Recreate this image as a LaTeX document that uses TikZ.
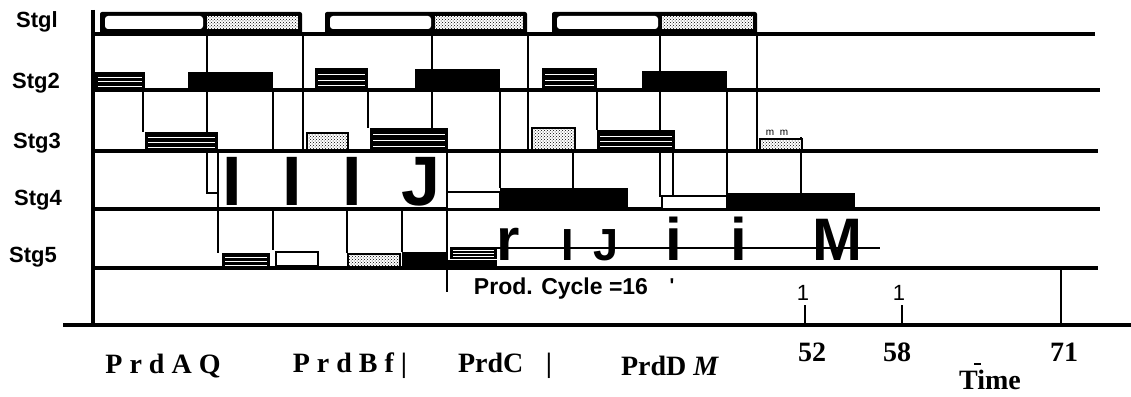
\documentclass[tikz,border=0pt]{standalone}
\usepackage{fontspec}
\setmainfont{Liberation Serif}
\setsansfont{Liberation Sans}
\usetikzlibrary{patterns}

% black bar with white stripes
\newcommand{\stripebar}[4]{%
  \fill (#1,#3) rectangle (#2,#4);
  \foreach \f in {0.3,0.55,0.8}
    \draw[white,line width=0.9pt] ({#1+3},{#3+\f*(#4-#3)}) -- ({#2-3},{#3+\f*(#4-#3)});
}

\tikzset{
  base/.style={line width=3.6pt},
  grid/.style={line width=2.8pt},
  hatchbar/.style={draw,line width=1.6pt,fill=white,postaction={pattern=crosshatch dots}},
  openbar/.style={draw,line width=2.4pt,fill=white},
  stg/.style={font=\sffamily\bfseries\fontsize{22}{22}\selectfont},
  prd/.style={font=\bfseries\fontsize{28}{28}\selectfont},
  big/.style={font=\sffamily\bfseries\fontsize{#1}{#1}\selectfont,inner sep=0pt,anchor=base},
}

\begin{document}
\begin{tikzpicture}[x=1pt,y=-1pt]
	\useasboundingbox (0,0) rectangle (1131,396);

	% Stage labels
	\node[stg] (s1) at (37,22) {Stgl};
	\node[stg] (s2) at (36,83) {Stg2};
	\node[stg] (s3) at (37,143) {Stg3};
	\node[stg] (s4) at (38,200) {Stg4};
	\node[stg] (s5) at (33,257) {Stg5};

	% Stage lines and axes
	\foreach \y/\e in {34/1095,90/1100,151/1098,209/1100,268/1098}
		\draw[base] (93,\y) -- (\e,\y);
	\draw[base] (93,10) -- (93,325);
	\draw[base] (63,325) -- (1131,325);

	% Links between stages
	\foreach \x/\ya/\yb in {207/34/193, 143/90/132, 273/90/150, 303/34/150, 368/90/128,
			432/34/150, 447/150/292, 500/90/188, 528/34/150, 573/150/188, 597/90/130,
			660/34/197, 673/150/197, 727/90/195, 757/34/152, 801/137/207, 218/150/253,
			273/209/250, 347/209/253, 402/209/252, 1061/268/325}
		\draw[grid] (\x,\ya) -- (\x,\yb);

	% Stg1
	\foreach \a/\m/\b in {100/205/302, 325/433/527, 552/660/757} {
		\fill[rounded corners=2pt] (\a,12) rectangle (\b,34);
		\fill[white,rounded corners=3pt] (\a+5,16) rectangle (\m-2,29);
		\fill[white] (\m+2,16) rectangle (\b-4,29);
		\fill[pattern=crosshatch dots] (\m+2,16) rectangle (\b-4,29);
	}

	% Stg2
	\stripebar{95}{145}{72}{90}
	\stripebar{315}{368}{68}{90}
	\stripebar{542}{597}{68}{90}
	\foreach \a/\b/\t in {188/273/72, 415/500/69, 642/727/71}
		\fill (\a,\t) rectangle (\b,90);

	% Stg3
	\stripebar{145}{218}{132}{151}
	\stripebar{370}{448}{128}{151}
	\stripebar{597}{675}{130}{151}
	\foreach \a/\b/\t in {307/348/133, 532/575/128, 760/802/139}
		\draw[hatchbar] (\a,\t) rectangle (\b,150);
	\node[font=\sffamily\fontsize{10}{10}\selectfont,inner sep=0pt] (mm) at (777,133) {m\ \ m};

	% Stg4
	\draw[grid] (207,150) rectangle (218,193);
	\draw[openbar] (447,192) rectangle (500,209);
	\draw[openbar] (662,196) rectangle (727,209);
	\foreach \a/\b/\t in {500/628/188, 727/855/193}
		\fill (\a,\t) rectangle (\b,209);
	\node[big=70] (l1) at (232,205) {I};
	\node[big=70] (l2) at (292,205) {I};
	\node[big=70] (l3) at (352,205) {I};
	\node[big=70] (l4) at (421,205) {J};

	% Stg5
	\stripebar{222}{270}{253}{268}
	\draw[openbar] (276,252) rectangle (318,266);
	\draw[hatchbar] (348,254) rectangle (400,267);
	\fill (402,252) rectangle (447,268);
	\fill (420,260) rectangle (497,270);
	\stripebar{450}{497}{247}{259}
	\draw[line width=2pt] (497,248) -- (880,248);
	\node[big=60] (r1) at (508,260) {r};
	\node[big=45] (r2) at (568,260) {I};
	\node[big=45] (r3) at (606,260) {J};
	\node[big=60] (r4) at (674,260) {i};
	\node[big=60] (r5) at (739,260) {i};
	\node[big=60] (r6) at (837,260) {M};

	% Cycle and time marks
	\node[font=\sffamily\bfseries\fontsize{23}{23}\selectfont] (pc) at (561,289) {Prod. Cycle =16};
	\node[font=\sffamily\bfseries\fontsize{20}{20}\selectfont] (q) at (672,286) {\textquotesingle};
	\foreach \x in {805,902}
		\draw[grid] (\x,305) -- (\x,325);
	\node[font=\sffamily\fontsize{22}{22}\selectfont] (o1) at (803,293) {1};
	\node[font=\sffamily\fontsize{22}{22}\selectfont] (o2) at (899,293) {1};
	\node[prd] (t52) at (812,352) {52};
	\node[prd] (t58) at (897,352) {58};
	\node[prd] (t71) at (1064,352) {71};
	\node[prd,inner sep=1pt] (time) at (990,380) {Time};
	\draw[line width=2pt] (974,364) -- (981,364);

	% Products
	\node[prd] (pa) at (163,366) {P r d A Q};
	\node[prd] (pb) at (350,366) {P r d B f |};
	\node[prd] (pc2) at (505,366) {PrdC\hspace{0.8em}|};
	\node[prd] (pd) at (670,366) {PrdD \textit{M}};
\end{tikzpicture}
\end{document}
